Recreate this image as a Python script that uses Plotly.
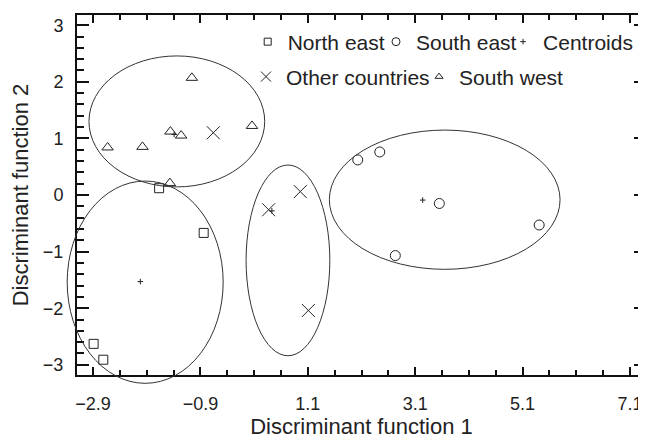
import plotly.graph_objects as go

# Axis ranges and ticks
X_RANGE = [-3.2, 7.4]
Y_RANGE = [-3.18, 3.18]
x_tick0, x_dtick, x_minor = -2.9, 2, 0.5
y_tick0, y_dtick, y_minor = 0, 1, 0.2

# Group scores (discriminant function 1, 2)
ne_x = [-1.67, -0.84, -2.89, -2.71]
ne_y = [0.12, -0.67, -2.63, -2.91]
se_x = [2.03, 2.44, 3.55, 5.41, 2.73]
se_y = [0.62, 0.76, -0.15, -0.53, -1.07]
oc_x = [-0.66, 0.37, 0.96, 1.11]
oc_y = [1.10, -0.26, 0.06, -2.04]
sw_x = [-2.63, -1.98, -1.46, -1.26, -1.06, 0.06, -1.47]
sw_y = [0.84, 0.85, 1.12, 1.05, 2.07, 1.22, 0.21]
cen_x = [-1.39, -2.02, 0.43, 3.24]
cen_y = [1.07, -1.53, -0.28, -0.09]

# Group ellipses: centre and semi-axes
ell_cx = [-1.34, -1.93, 0.73, 3.65]
ell_cy = [1.30, -1.54, -1.155, -0.083]
ell_rx = [1.637, 1.453, 0.78, 2.149]
ell_ry = [1.157, 1.787, 1.685, 1.23]

INK = "#222222"
FONT = "Liberation Sans, Arial, sans-serif"

fig = go.Figure()

# name, x, y, symbol, plot size, legend size, legend id
groups = [
    ("North east", ne_x, ne_y, "square-open", 9, 7, "legend"),
    ("South east", se_x, se_y, "circle-open", 10, 8, "legend2"),
    ("Centroids", cen_x, cen_y, "cross-thin-open", 4, 4, "legend3"),
    ("Other countries", oc_x, oc_y, "x-thin-open", 13, 10, "legend4"),
    ("South west", sw_x, sw_y, "triangle-up-open", 10, 7, "legend5"),
]

for name, xs, ys, sym, size, lsize, leg in groups:
    fig.add_trace(go.Scatter(
        x=xs, y=ys, mode="markers", name=name, showlegend=False,
        marker=dict(symbol=sym, size=size, color=INK, line=dict(color=INK, width=1)),
        cliponaxis=False,
    ))
    fig.add_trace(go.Scatter(
        x=[None], y=[None], mode="markers", name=name, legend=leg,
        marker=dict(symbol=sym, size=lsize, color=INK, line=dict(color=INK, width=1)),
    ))

def fx(v):
    return (v - X_RANGE[0]) / (X_RANGE[1] - X_RANGE[0])

def fy(v):
    return (v - Y_RANGE[0]) / (Y_RANGE[1] - Y_RANGE[0])

for cx, cy, rx, ry in zip(ell_cx, ell_cy, ell_rx, ell_ry):
    fig.add_shape(type="circle", xref="x domain", yref="y domain",
                  x0=fx(cx - rx), x1=fx(cx + rx), y0=fy(cy - ry), y1=fy(cy + ry),
                  line=dict(color="#333333", width=1))

axis_common = dict(
    showline=True, linecolor="#111111", linewidth=2, mirror="allticks",
    ticks="inside", tickcolor="#111111", tickwidth=2,
    showgrid=False, zeroline=False, automargin=False,
    tickfont=dict(family=FONT, size=18, color=INK),
)

fig.update_xaxes(
    range=X_RANGE, tickmode="linear", tick0=x_tick0, dtick=x_dtick, tickformat=".1f",
    ticklen=8, ticklabelstandoff=11,
    minor=dict(ticks="inside", tick0=x_tick0, dtick=x_minor, ticklen=5, tickwidth=1.5, tickcolor="#111111"),
    title=dict(text="Discriminant function 1", font=dict(family=FONT, size=22, color=INK), standoff=11),
    **axis_common,
)
fig.update_yaxes(
    range=Y_RANGE, tickmode="linear", tick0=y_tick0, dtick=y_dtick,
    ticklen=12, ticklabelstandoff=8,
    minor=dict(ticks="inside", tick0=y_tick0, dtick=y_minor, ticklen=7, tickwidth=1.5, tickcolor="#111111"),
    title=dict(text="Discriminant function 2", font=dict(family=FONT, size=22, color=INK), standoff=30),
    **axis_common,
)

legend_common = dict(
    orientation="h", yanchor="middle", bgcolor="rgba(0,0,0,0)",
    font=dict(family=FONT, size=21, color=INK), itemwidth=30, tracegroupgap=0,
    itemsizing="trace", borderwidth=0,
)
fig.update_layout(
    width=638, height=431,
    margin=dict(l=69, r=0, t=7, b=64, autoexpand=False),
    plot_bgcolor="white", paper_bgcolor="white",
    legend=dict(x=0.3, y=0.925, xanchor="left", **legend_common),
    legend2=dict(x=0.5255, y=0.925, xanchor="left", **legend_common),
    legend3=dict(x=0.986, y=0.925, xanchor="right", **legend_common),
    legend4=dict(x=0.297, y=0.828, xanchor="left", **legend_common),
    legend5=dict(x=0.6011, y=0.828, xanchor="left", **legend_common),
    font=dict(family=FONT, color=INK),
)

fig.write_html("out.html")
